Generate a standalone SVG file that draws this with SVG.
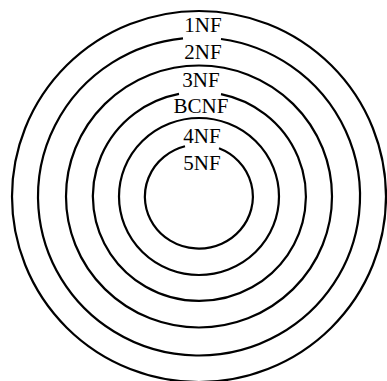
<svg xmlns="http://www.w3.org/2000/svg" width="387" height="381" viewBox="0 0 387 381">
<style>
.c{fill:none;stroke:#000;stroke-width:2.2}
.t{font-family:"Liberation Serif","Times New Roman",serif;font-size:21px;fill:#000;text-anchor:middle}
</style>
<rect width="387" height="381" fill="#fff"/>
<g id="connectors"></g>
<g id="nf1"><ellipse class="c" cx="199" cy="196.5" rx="187" ry="185.5"/><text class="t" x="203" y="32">1NF</text></g>
<g id="nf2"><path class="c" d="M221,39 A161,159 0 1 1 183,38.3"/><text class="t" x="203" y="59">2NF</text></g>
<g id="nf3"><ellipse class="c" cx="199" cy="196.5" rx="133" ry="131"/><text class="t" x="201" y="87">3NF</text></g>
<g id="bcnf"><path class="c" d="M221,94.1 A106.5,104.5 0 1 1 179,93.86"/><text class="t" x="201" y="113">BCNF</text></g>
<g id="nf4"><ellipse class="c" cx="199" cy="196.5" rx="80" ry="78.5"/><text class="t" x="202" y="143">4NF</text></g>
<g id="nf5"><path class="c" d="M219,148.3 A54,52 0 1 1 185,146.3"/><text class="t" x="202" y="170">5NF</text></g>
</svg>
